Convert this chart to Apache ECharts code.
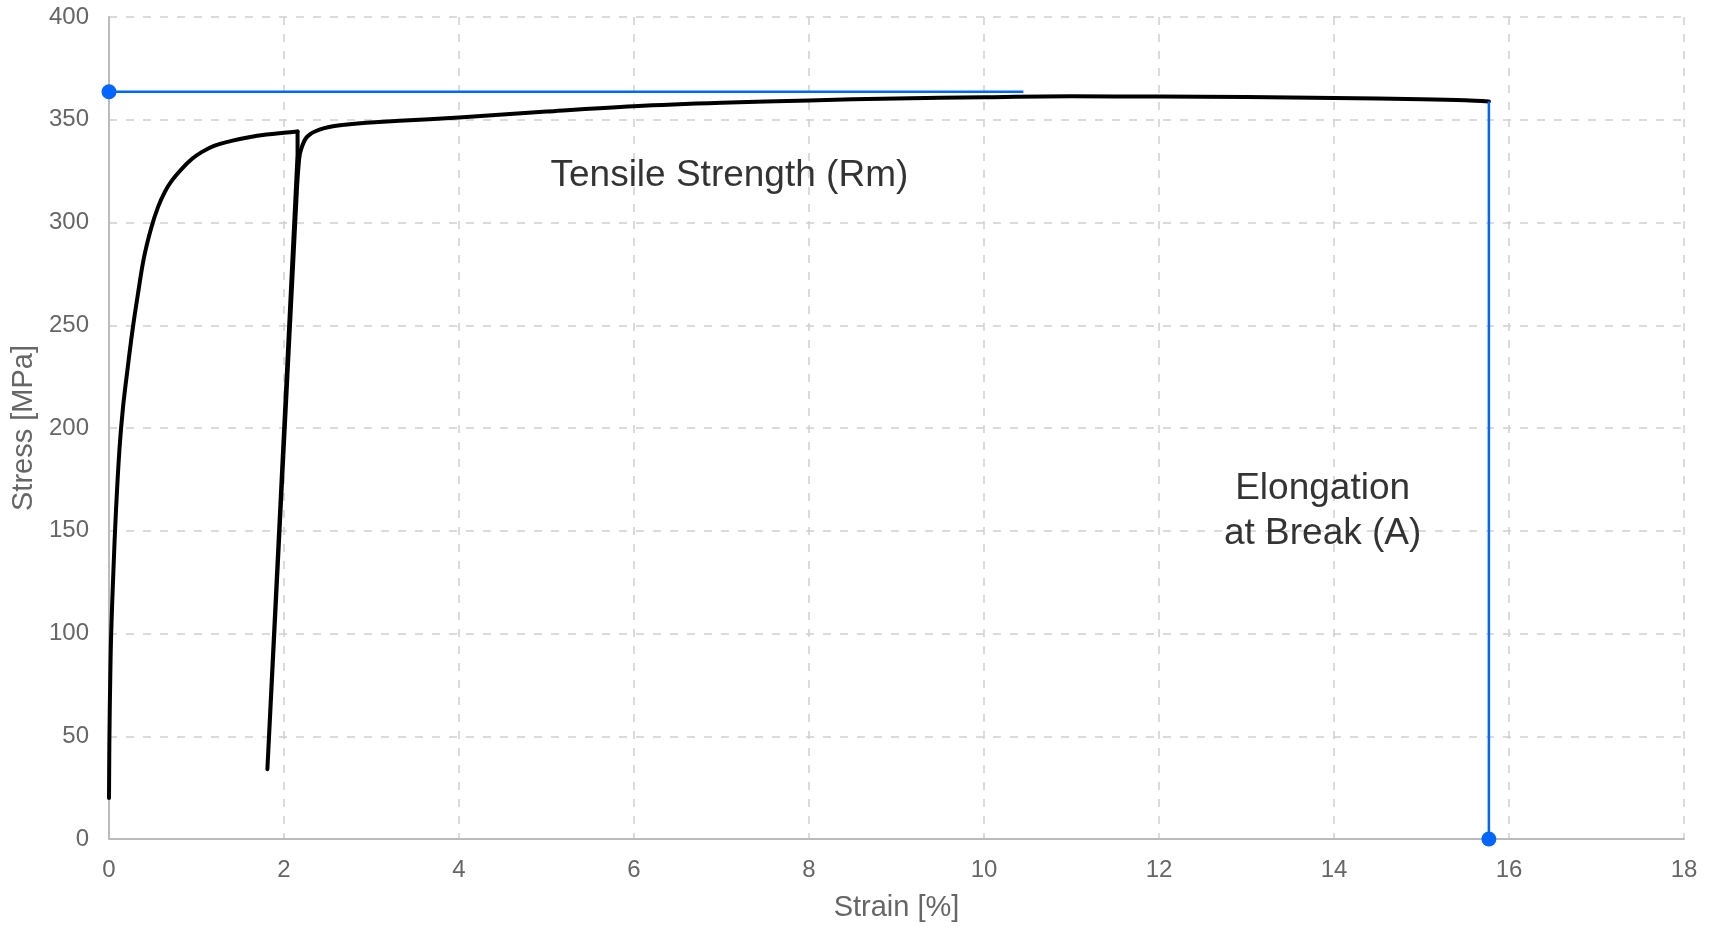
<!DOCTYPE html>
<html>
<head>
<meta charset="utf-8">
<script src="https://cdn.jsdelivr.net/npm/echarts@6/dist/echarts.min.js"></script>
<style>
html,body{margin:0;padding:0;background:#fff;}
#chart{width:1715px;height:927px;}
</style>
</head>
<body>
<div id="chart"></div>
<script>
// ---- data ----
// first loading branch
const loadStrain = [0, 0.005, 0.015, 0.025, 0.05, 0.08, 0.12, 0.16, 0.21, 0.27, 0.33, 0.40, 0.48, 0.56, 0.64, 0.72, 0.84, 0.95, 1.05, 1.20, 1.40, 1.60, 1.80, 2.00, 2.155];
const loadStress = [20, 50, 80, 100, 130, 160, 190, 210, 228, 248, 265, 283, 297, 307.5, 315, 320.5, 326.5, 331, 334, 337.3, 339.7, 341.5, 342.8, 343.7, 344.3];
// unloading / reloading straight line
const unloadStrain = [2.155, 2.155, 1.81, 2.15];
const unloadStress = [344.3, 333, 34, 318];
// reloading branch up to break
const reloadStrain = [2.15, 2.165, 2.18, 2.21, 2.25, 2.30, 2.36, 2.45, 2.56, 2.75, 2.94, 3.32, 4, 5, 6, 7, 8, 9, 10, 11, 12, 13, 14, 15, 15.5, 15.77];
const reloadStress = [318, 327, 333, 337.5, 341, 343, 344.4, 345.8, 346.8, 347.8, 348.5, 349.5, 351.1, 354, 356.6, 358.3, 359.4, 360.4, 361, 361.4, 361.3, 361.1, 360.6, 360, 359.5, 358.9];
const rmStrain = [0, 10.45];
const rmStress = [363.6, 363.6];
const breakStrain = [15.77, 15.77];
const breakStress = [0, 358.9];
const xTicks = [0, 2, 4, 6, 8, 10, 12, 14, 16, 18];
const yTicks = [0, 50, 100, 150, 200, 250, 300, 350, 400];
const annotationTexts = ['Tensile Strength (Rm)', 'Elongation\nat Break (A)'];
const annotationStrain = [7.09, 13.87];
const annotationStress = [322.5, 159.7];

const pairs = (xs, ys) => xs.map((x, i) => [x, ys[i]]);
const blue = '#0066ff';
const font = '"Liberation Sans", Arial, sans-serif';
const blackLine = {color: '#000', width: 4, cap: 'round', join: 'round'};

const chart = echarts.init(document.getElementById('chart'), null, {renderer: 'canvas'});
chart.setOption({
  animation: false,
  backgroundColor: '#ffffff',
  grid: {left: 109, right: 31, top: 17, bottom: 86, containLabel: false},
  xAxis: {
    type: 'value', min: xTicks[0], max: xTicks[xTicks.length - 1], interval: 2,
    name: 'Strain [%]', nameLocation: 'middle', nameGap: 54,
    nameTextStyle: {color: '#666', fontSize: 29, fontFamily: font},
    axisLine: {show: true, lineStyle: {color: '#bbb', width: 2}},
    axisTick: {show: false},
    axisLabel: {color: '#666', fontSize: 24, fontFamily: font, margin: 19},
    splitLine: {show: true, lineStyle: {color: '#d0d0d0', type: [8, 9], width: 1.5}}
  },
  yAxis: {
    type: 'value', min: yTicks[0], max: yTicks[yTicks.length - 1], interval: 50,
    name: 'Stress [MPa]', nameLocation: 'middle', nameGap: 70,
    nameTextStyle: {color: '#666', fontSize: 29, fontFamily: font},
    axisLine: {show: true, lineStyle: {color: '#bbb', width: 2}},
    axisTick: {show: false},
    axisLabel: {color: '#666', fontSize: 24, fontFamily: font, margin: 20},
    splitLine: {show: true, lineStyle: {color: '#d0d0d0', type: [8, 9], width: 1.5}}
  },
  series: [
    {type: 'line', data: pairs(loadStrain, loadStress), symbol: 'none', smooth: 0.4, lineStyle: blackLine, z: 3},
    {type: 'line', data: pairs(unloadStrain, unloadStress), symbol: 'none', smooth: false, lineStyle: blackLine, z: 3},
    {type: 'line', data: pairs(reloadStrain, reloadStress), symbol: 'none', smooth: 0.35, lineStyle: blackLine, z: 3},
    {
      type: 'line', showAllSymbol: true, symbol: 'circle', symbolSize: 15,
      data: rmStrain.map((x, i) => i === 0 ? {value: [x, rmStress[i]]} : {value: [x, rmStress[i]], symbol: 'none'}),
      itemStyle: {color: blue}, lineStyle: {color: blue, width: 2.5}, z: 4
    },
    {
      type: 'line', showAllSymbol: true, symbol: 'circle', symbolSize: 15,
      data: breakStrain.map((x, i) => i === 0 ? {value: [x, breakStress[i]]} : {value: [x, breakStress[i]], symbol: 'none'}),
      itemStyle: {color: blue}, lineStyle: {color: blue, width: 2.5}, z: 4
    },
    {
      type: 'scatter', symbolSize: 0, silent: true,
      data: annotationStrain.map((x, i) => ({value: [x, annotationStress[i]], name: annotationTexts[i]})),
      label: {show: true, position: 'inside', formatter: p => p.name, color: '#000', textBorderWidth: 0, fontSize: 37, lineHeight: 45, fontFamily: font, align: 'center'},
      z: 5
    }
  ]
});
</script>
</body>
</html>
